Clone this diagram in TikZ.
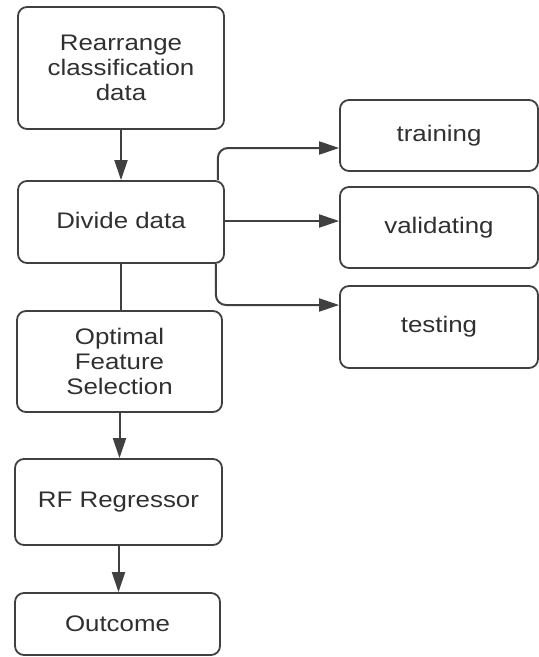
\documentclass[tikz,border=0pt]{standalone}
\usepackage{fontspec}
\setmainfont[FakeStretch=1.15]{Liberation Sans}
\usetikzlibrary{arrows.meta}
\definecolor{txt}{HTML}{303030}
\definecolor{edge}{HTML}{404040}
\begin{document}
\begin{tikzpicture}[x=1pt,y=-1pt,
  box/.style={draw=edge, line width=1.8pt, rounded corners=9pt, inner sep=0pt,
    align=center, text=txt, font=\fontsize{22.5}{25}\selectfont},
  conn/.style={draw=edge, line width=2pt, rounded corners=10pt},
  arr/.style={conn, -{Triangle[length=20pt,width=13pt]}}]
\useasboundingbox (0,0) rectangle (539,657);
\node[box, minimum width=206, minimum height=122] (re) at (121,68) {Rearrange\\classification\\data};
\node[box, minimum width=206, minimum height=82] (div) at (121,222) {\raisebox{4pt}{Divide data}};
\node[box, minimum width=198, minimum height=71] (tr) at (439,135.5) {\raisebox{2pt}{training}};
\node[box, minimum width=198, minimum height=81] (va) at (439,227.5) {\raisebox{2pt}{validating}};
\node[box, minimum width=198, minimum height=82] (te) at (439,327) {\raisebox{2pt}{testing}};
\node[box, minimum width=205, minimum height=101] (op) at (119.5,361.5) {Optimal\\Feature\\Selection};
\node[box, minimum width=207, minimum height=86] (rf) at (118.5,502) {RF Regressor};
\node[box, minimum width=205, minimum height=62] (out) at (117.5,624) {Outcome};
\coordinate (dt) at ([xshift=-7pt]div.north east);
\coordinate (db) at ([xshift=-9pt]div.south east);
\coordinate (trin) at ([yshift=-12.5pt]tr.west);
\coordinate (vain) at ([yshift=6.5pt]va.west);
\coordinate (tein) at ([yshift=22pt]te.west);
\draw[arr] (re.south) -- (re.south |- div.north);
\draw[conn] (div.south) -- (div.south |- op.north);
\draw[arr] (op.south) -- (op.south |- rf.north);
\draw[arr] (rf.south) -- (rf.south |- out.north);
\draw[arr] (dt) |- (trin);
\draw[arr] (div.east |- vain) -- (vain);
\draw[arr] (db) |- (tein);
\end{tikzpicture}
\end{document}
